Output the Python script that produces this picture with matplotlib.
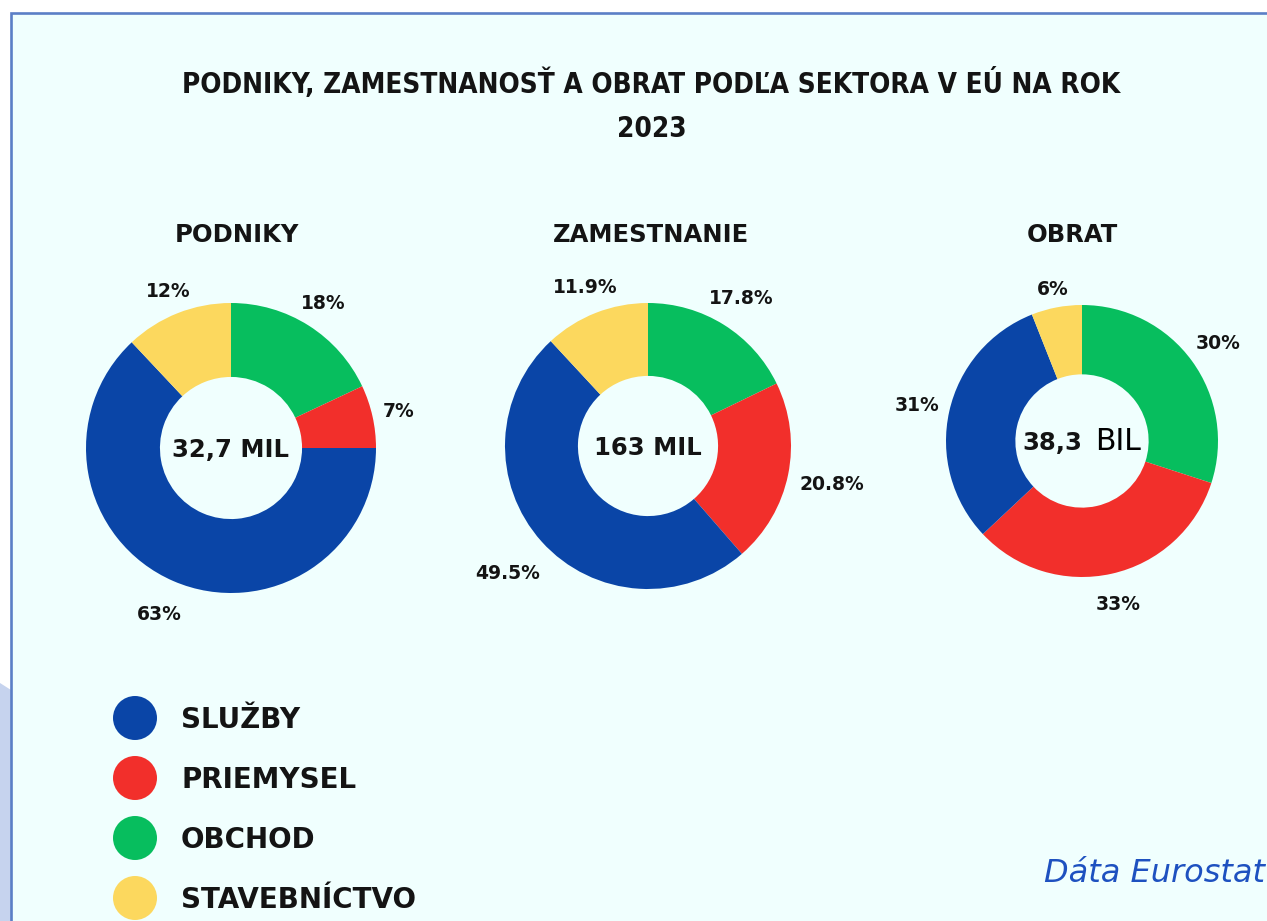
import os
import numpy as np
import matplotlib
matplotlib.use("Agg")
import matplotlib.pyplot as plt
from matplotlib import font_manager
from matplotlib.font_manager import FontProperties
from matplotlib.patches import Rectangle, Circle, Polygon

# ---------------- data ----------------
title_line1 = "PODNIKY, ZAMESTNANOSŤ A OBRAT PODĽA SEKTORA V EÚ NA ROK"
title_line2 = "2023"

categories = ["SLUŽBY", "PRIEMYSEL", "OBCHOD", "STAVEBNÍCTVO"]
category_colors = ["#0A45A7", "#F22F2B", "#07BE5E", "#FCD85E"]

# order of wedges clockwise from 12 o'clock
pie_order = ["OBCHOD", "PRIEMYSEL", "SLUŽBY", "STAVEBNÍCTVO"]

panel_titles = ["PODNIKY", "ZAMESTNANIE", "OBRAT"]
panel_numbers = ["32,7", "163", "38,3"]
panel_units = ["MIL", "MIL", "BIL"]

podniky_values = [18, 7, 63, 12]
podniky_labels = ["18%", "7%", "63%", "12%"]

zamestnanie_values = [17.8, 20.8, 49.5, 11.9]
zamestnanie_labels = ["17.8%", "20.8%", "49.5%", "11.9%"]

obrat_values = [30, 33, 31, 6]
obrat_labels = ["30%", "33%", "31%", "6%"]

source_text = "Dáta Eurostat"

# ---------------- layout (pixel space) ----------------
W, H = 1267, 921
BG = "#F0FFFE"
TXT = "#141414"
centers = [(231, 448), (648, 446), (1082, 441)]
radii = [145, 143, 136]

fig = plt.figure(figsize=(W / 100, H / 100), dpi=100, facecolor="white")
ax = fig.add_axes([0, 0, 1, 1])
ax.set_xlim(0, W)
ax.set_ylim(0, H)
ax.axis("off")


def Y(y):
    return H - y


# background panel with border
ax.add_patch(Polygon([(0, Y(683)), (11, Y(690)), (11, 0), (0, 0)], closed=True,
                     facecolor="#C6D3EE", edgecolor="none", zorder=0))
ax.add_patch(Rectangle((11, -20), W + 40, Y(13.5) + 20, facecolor=BG,
                       edgecolor="#5B7FC6", linewidth=1.9, zorder=0.5))

renderer = fig.canvas.get_renderer()

# ---------------- title ----------------
def pick_title_font():
    tl = font_manager.fontManager.ttflist
    for f in tl:
        if f.name == "Liberation Sans Narrow" and "Bold" in os.path.basename(f.fname) \
                and "Italic" not in os.path.basename(f.fname):
            return FontProperties(fname=f.fname)
    for f in tl:
        b = os.path.basename(f.fname)
        if "DejaVuSansCondensed-Bold.ttf" == b:
            return FontProperties(fname=f.fname)
    return FontProperties(family="Roboto", weight="bold")


tfp = pick_title_font()
t1 = ax.text(W / 2 + 18, Y(93), title_line1, ha="center", va="baseline",
             fontproperties=tfp, color=TXT, zorder=5)
t1.set_fontsize(20)
w20 = t1.get_window_extent(renderer).width
tsize = 20 * 937 / w20
t1.set_fontsize(tsize)
t2 = ax.text(W / 2 + 18, Y(137), title_line2, ha="center", va="baseline",
             fontproperties=tfp, color=TXT, zorder=5)
t2.set_fontsize(tsize)

# ---------------- donuts ----------------
color_map = dict(zip(categories, category_colors))
pie_colors = [color_map[c] for c in pie_order]

all_values = [podniky_values, zamestnanie_values, obrat_values]
all_labels = [podniky_labels, zamestnanie_labels, obrat_labels]
title_x = [237, 651, 1072]

PCT_SIZE = 13.5
CAP = 0.729  # DejaVu cap height / em

for i in range(3):
    cx, cy_img = centers[i]
    cy = Y(cy_img)
    R = radii[i]
    wedges, _ = ax.pie(all_values[i], colors=pie_colors, startangle=90,
                       counterclock=False, radius=R, center=(cx, cy),
                       wedgeprops=dict(width=0.51 * R, linewidth=0),
                       frame=True)
    for w in wedges:
        w.set_zorder(2)

    # percentage labels
    for wdg, lab in zip(wedges, all_labels[i]):
        th = np.deg2rad((wdg.theta1 + wdg.theta2) / 2)
        t = ax.text(0, 0, lab, ha="center", va="baseline", fontsize=PCT_SIZE,
                    fontweight="bold", family="DejaVu Sans", color=TXT, zorder=5)
        bb = t.get_window_extent(renderer)
        cap_px = CAP * PCT_SIZE * 100 / 72
        off = abs(np.cos(th)) * bb.width / 2 + abs(np.sin(th)) * cap_px / 2
        gap = 1.07 + 0.07 * max(0.0, -np.sin(th))
        d = gap * R + off
        t.set_position((cx + d * np.cos(th), cy + d * np.sin(th) - cap_px / 2))

    # panel title
    ax.text(title_x[i], Y(242), panel_titles[i], ha="center", va="baseline",
            fontsize=17.5, fontweight="bold", family="DejaVu Sans", color=TXT,
            zorder=5)

    # centre total
    num_size = 17.5
    cap_px = CAP * num_size * 100 / 72
    base = cy - cap_px / 2
    if panel_units[i] == "BIL":
        tn = ax.text(0, base, panel_numbers[i], ha="left", va="baseline",
                     fontsize=num_size, fontweight="bold", family="DejaVu Sans",
                     color=TXT, zorder=5)
        tu = ax.text(0, base, panel_units[i], ha="left", va="baseline",
                     fontsize=21.5, fontweight="normal", family="DejaVu Sans",
                     color="#000000", zorder=5)
        wn = tn.get_window_extent(renderer).width
        wu = tu.get_window_extent(renderer).width
        gapx = 13
        x0 = cx - (wn + gapx + wu) / 2
        tn.set_x(x0)
        tu.set_x(x0 + wn + gapx)
    else:
        ax.text(cx, base, panel_numbers[i] + " " + panel_units[i], ha="center",
                va="baseline", fontsize=num_size, fontweight="bold",
                family="DejaVu Sans", color=TXT, zorder=5)

# ---------------- legend ----------------
leg_y0 = 718
leg_dy = 60
for k, (cat, col) in enumerate(zip(categories, category_colors)):
    yy = Y(leg_y0 + k * leg_dy)
    ax.add_patch(Circle((135, yy), 22, facecolor=col, edgecolor="none", zorder=3))
    ax.text(181, yy - 10, cat, ha="left", va="baseline", fontsize=20,
            fontweight="bold", family="DejaVu Sans", color=TXT, zorder=5)

# ---------------- source ----------------
ax.text(1265, Y(882), source_text, ha="right", va="baseline", fontsize=23,
        style="italic", family="DejaVu Sans", color="#1E51C0", zorder=5)

ax.set_xlim(0, W)
ax.set_ylim(0, H)
ax.set_aspect("auto")
fig.savefig("out.png", dpi=100, facecolor="white")
